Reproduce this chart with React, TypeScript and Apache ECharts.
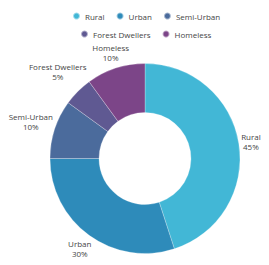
import React, { useEffect, useRef } from "react";
import * as echarts from "echarts";

const categories = ["Rural", "Urban", "Semi-Urban", "Forest Dwellers", "Homeless"];
const values = [45, 30, 10, 5, 10];
const colors = ["#42B7D6", "#2E8BBA", "#4B6B9C", "#5F5992", "#7C4588"];
const legendRow1 = ["Rural", "Urban", "Semi-Urban"];
const legendRow2 = ["Forest Dwellers", "Homeless"];

const CX = 145;
const CY = 158.5;
const R_OUT = 95;
const R_IN = 46;
const FONT = "'Open Sans', sans-serif";

export default function App() {
  const ref = useRef<HTMLDivElement>(null);
  useEffect(() => {
    if (!ref.current) return;
    const chart = echarts.init(ref.current, undefined, { renderer: "svg" });
    const total = values.reduce((a, b) => a + b, 0);
    const midAngles: number[] = [];
    let acc = 0;
    values.forEach((v) => {
      const mid = ((acc + v / 2) / total) * 2 * Math.PI;
      midAngles.push(mid);
      acc += v;
    });
    const legendBase = {
      icon: "circle",
      itemWidth: 7,
      itemHeight: 7,
      itemGap: 11,
      padding: 0,
      orient: "horizontal",
      textStyle: { fontSize: 8, lineHeight: 10, color: "#454545", fontFamily: FONT },
    };
    chart.setOption({
      animation: false,
      color: colors,
      legend: [
        { ...legendBase, left: 72, top: 11, data: legendRow1 },
        { ...legendBase, left: 80, top: 29, data: legendRow2 },
      ],
      series: [
        {
          type: "pie",
          center: [CX, CY],
          radius: [R_IN, R_OUT],
          startAngle: 90,
          clockwise: true,
          avoidLabelOverlap: false,
          itemStyle: { borderColor: "rgba(255,255,255,0.5)", borderWidth: 0.5 },
          label: {
            show: true,
            position: "outside",
            formatter: "{b}\n{c}%",
            fontSize: 8,
            lineHeight: 10,
            color: "#454545",
            fontFamily: FONT,
            align: "center",
          },
          labelLine: { show: false },
          labelLayout: (params: any) => {
            const a = midAngles[params.dataIndex];
            const dx = Math.sin(a);
            const dy = -Math.cos(a);
            const w = params.labelRect.width;
            const h = params.labelRect.height;
            const ext = (Math.abs(dx) * w) / 2 + (Math.abs(dy) * h) / 2;
            const d = R_OUT + 1 + ext;
            return {
              x: CX + dx * d,
              y: CY + dy * d,
              align: "center",
              verticalAlign: "middle",
            };
          },
          data: categories.map((name, i) => ({ name, value: values[i] })),
        },
      ],
    });
    return () => chart.dispose();
  }, []);
  return (
    <div
      ref={ref}
      style={{ position: "absolute", left: 0, top: 0, width: 269, height: 265 }}
    />
  );
}
